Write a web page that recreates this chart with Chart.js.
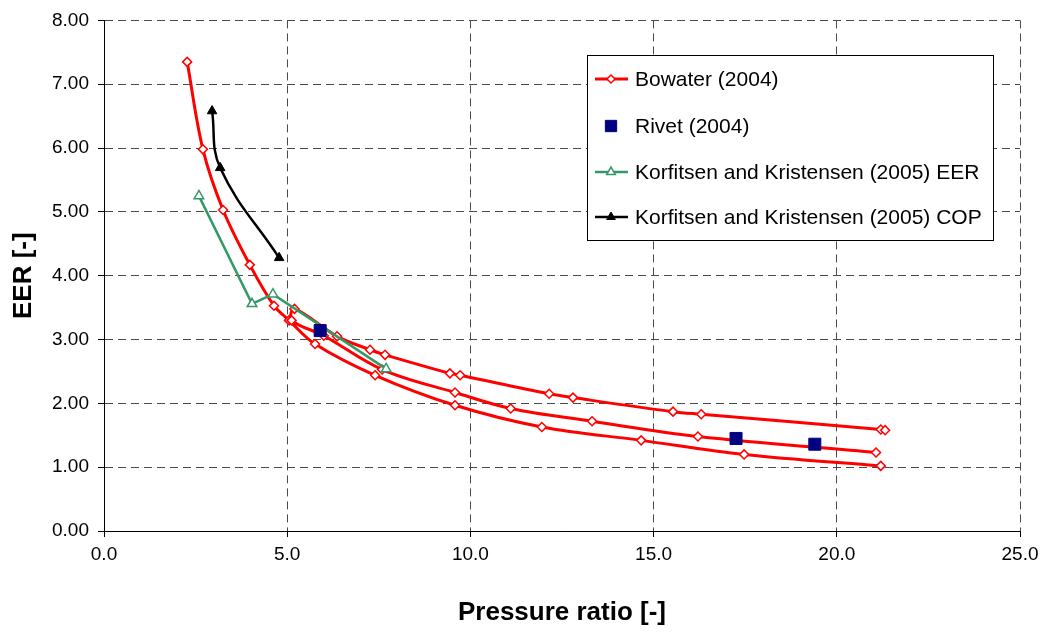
<!DOCTYPE html>
<html>
<head>
<meta charset="utf-8">
<script src="https://cdn.jsdelivr.net/npm/chart.js@4.4.0/dist/chart.umd.min.js"></script>
<style>
  html, body { margin: 0; padding: 0; background: #fff; }
  #wrap { width: 1045px; height: 632px; }
</style>
</head>
<body>
<div id="wrap"><canvas id="eerChart" width="1045" height="632"></canvas></div>
<script>
// ===== DATA =====
// Bowater (2004): two runs, null = break in the line
const bowaterX = [2.27, 2.70, 3.25, 3.98, 4.64, 5.05, 5.76, 7.40, 9.58, 11.95, 14.66, 17.47, 21.20, null,
                  21.07, 16.21, 13.32, 11.10, 9.58, 7.59, 6.00, 5.12, 5.20, 6.36, 7.26, 7.67, 9.44, 9.72, 12.15, 12.80, 15.53, 16.30, 21.20, 21.32];
const bowaterY = [7.35, 5.98, 5.03, 4.17, 3.53, 3.30, 2.93, 2.44, 1.97, 1.63, 1.42, 1.20, 1.02, null,
                  1.23, 1.48, 1.72, 1.92, 2.17, 2.53, 3.06, 3.30, 3.48, 3.05, 2.84, 2.76, 2.47, 2.44, 2.15, 2.09, 1.87, 1.83, 1.59, 1.58];

// Rivet (2004)
const rivetX = [5.90, 17.25, 19.40];
const rivetY = [3.14, 1.45, 1.36];

// Korfitsen and Kristensen (2005) EER
const kkEerX = [2.59, 4.04, 4.61, 7.70];
const kkEerY = [5.25, 3.56, 3.71, 2.54];

// Korfitsen and Kristensen (2005) COP
const kkCopX = [2.95, 3.17, 4.78];
const kkCopY = [6.58, 5.69, 4.28];

// axis ticks
const xTicks = [0, 5, 10, 15, 20, 25];
const yTicks = [0, 1, 2, 3, 4, 5, 6, 7, 8];

const seriesNames = ['Bowater (2004)', 'Rivet (2004)', 'Korfitsen and Kristensen (2005) EER', 'Korfitsen and Kristensen (2005) COP'];

function toPoints(xs, ys) {
  return xs.map((x, i) => ({ x: x, y: ys[i] }));
}

const FONT = "'Liberation Sans', Arial, sans-serif";

// ===== LEGEND BOX (drawn inside the plot) =====
const boxLegend = {
  id: 'boxLegend',
  afterDraw(chart) {
    const ctx = chart.ctx;
    const left = 587, top = 55, right = 993, bottom = 240;
    ctx.save();
    ctx.fillStyle = '#fff';
    ctx.fillRect(left, top, right - left, bottom - top);
    ctx.strokeStyle = '#000';
    ctx.lineWidth = 1;
    ctx.strokeRect(left + 0.5, top + 0.5, right - left, bottom - top);

    const rowY = [79, 126, 172, 217];
    chart.data.datasets.forEach((ds, i) => {
      const y = rowY[i];
      if (ds.showLine) {
        ctx.strokeStyle = ds.borderColor;
        ctx.lineWidth = ds.borderWidth;
        ctx.beginPath();
        ctx.moveTo(595, y);
        ctx.lineTo(628, y);
        ctx.stroke();
      }
      ctx.fillStyle = ds.pointBackgroundColor;
      ctx.strokeStyle = ds.pointBorderColor;
      ctx.lineWidth = ds.pointBorderWidth;
      Chart.helpers.drawPoint(ctx, {
        pointStyle: ds.pointStyle,
        radius: ds.legendRadius,
        borderWidth: ds.pointBorderWidth,
        rotation: 0
      }, 611, y);

      ctx.fillStyle = '#000';
      ctx.font = '21px ' + FONT;
      ctx.textAlign = 'left';
      ctx.textBaseline = 'middle';
      ctx.fillText(seriesNames[i], 635, y + 1);
    });
    ctx.restore();
  }
};

const gridStyle = {
  color: '#4a4a4a',
  tickLength: 6,
  tickColor: '#000',
  tickBorderDash: []
};

const ctx = document.getElementById('eerChart');
const eerChart = new Chart(ctx, {
  type: 'scatter',
  data: {
    datasets: [
      {
        label: seriesNames[0],
        data: toPoints(bowaterX, bowaterY),
        showLine: true,
        spanGaps: false,
        tension: 0.35,
        borderColor: '#ff0000',
        borderWidth: 3,
        pointStyle: 'rectRot',
        pointRadius: 4.5,
        legendRadius: 4,
        pointBorderColor: '#ff0000',
        pointBackgroundColor: '#ffffff',
        pointBorderWidth: 1.5,
        order: 3
      },
      {
        label: seriesNames[1],
        data: toPoints(rivetX, rivetY),
        showLine: false,
        borderColor: '#000080',
        pointStyle: 'rect',
        pointRadius: 8.5,
        legendRadius: 8,
        pointBorderColor: '#000080',
        pointBackgroundColor: '#000080',
        pointBorderWidth: 1,
        order: 0
      },
      {
        label: seriesNames[2],
        data: toPoints(kkEerX, kkEerY),
        showLine: true,
        tension: 0,
        borderColor: '#339966',
        borderWidth: 2.5,
        pointStyle: 'triangle',
        pointRadius: 5.5,
        legendRadius: 5,
        pointBorderColor: '#339966',
        pointBackgroundColor: '#ffffff',
        pointBorderWidth: 1.5,
        order: 1
      },
      {
        label: seriesNames[3],
        data: toPoints(kkCopX, kkCopY),
        showLine: true,
        tension: 0.4,
        borderColor: '#000000',
        borderWidth: 2.5,
        pointStyle: 'triangle',
        pointRadius: 5.5,
        legendRadius: 5,
        pointBorderColor: '#000000',
        pointBackgroundColor: '#000000',
        pointBorderWidth: 1,
        order: 2
      }
    ]
  },
  options: {
    responsive: false,
    animation: false,
    layout: { padding: { top: 19, right: 25, left: 0, bottom: 0 } },
    plugins: {
      legend: { display: false },
      tooltip: { enabled: false }
    },
    scales: {
      x: {
        type: 'linear',
        min: 0,
        max: 25,
        afterBuildTicks: (scale) => { scale.ticks = xTicks.map(v => ({ value: v })); },
        afterFit: (scale) => { scale.height = 101; },
        ticks: {
          color: '#000',
          font: { family: FONT, size: 19 },
          padding: 6,
          maxRotation: 0,
          callback: (v) => Number(v).toFixed(1)
        },
        grid: gridStyle,
        border: { display: true, color: '#000', width: 1, dash: [8, 5] },
        title: {
          display: true,
          text: 'Pressure ratio [-]',
          color: '#000',
          font: { family: FONT, size: 26, weight: 'bold' },
          padding: { top: 0, bottom: 4 }
        }
      },
      y: {
        type: 'linear',
        min: 0,
        max: 8,
        afterBuildTicks: (scale) => { scale.ticks = yTicks.map(v => ({ value: v })); },
        afterFit: (scale) => { scale.width = 104; },
        ticks: {
          color: '#000',
          font: { family: FONT, size: 19 },
          padding: 9,
          callback: (v) => Number(v).toFixed(2)
        },
        grid: gridStyle,
        border: { display: true, color: '#000', width: 1, dash: [8, 5] },
        title: {
          display: true,
          text: 'EER [-]',
          color: '#000',
          font: { family: FONT, size: 26, weight: 'bold' },
          padding: { top: 8, bottom: 0 }
        }
      }
    }
  },
  plugins: [boxLegend]
});
</script>
</body>
</html>
